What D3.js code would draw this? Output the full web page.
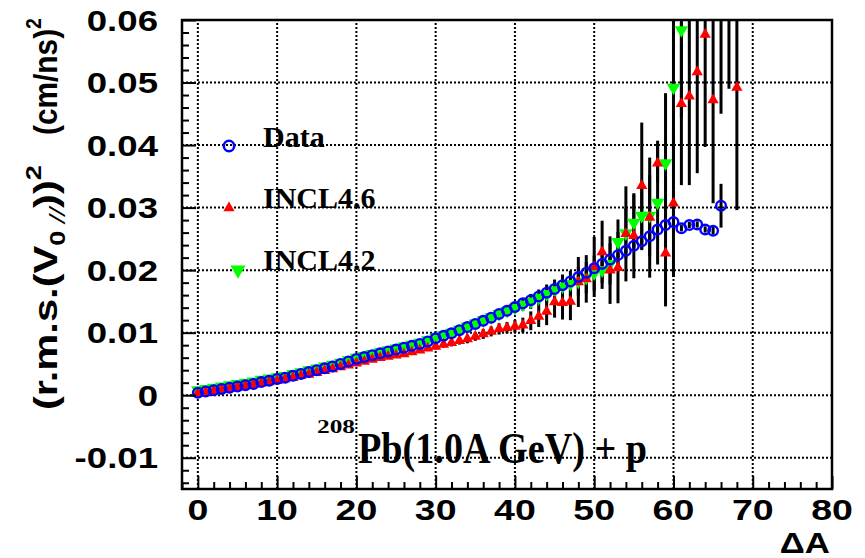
<!DOCTYPE html>
<html>
<head>
<meta charset="utf-8">
<script src="https://cdn.jsdelivr.net/npm/d3@7"></script>
<style>
  html, body { margin: 0; padding: 0; background: #fff; }
  svg { display: block; }
</style>
</head>
<body>
<svg id="chart" width="865" height="558"></svg>
<script>
// Mass loss ΔA
const deltaA = [0,1,2,3,4,5,6,7,8,9,10,11,12,13,14,15,16,17,18,19,20,21,22,23,24,25,26,27,28,29,
  30,31,32,33,34,35,36,37,38,39,40,41,42,43,44,45,46,47,48,49,50,51,52,53,54,55,56,57,58,59,
  60,61,62,63,64,65,66,67,68];

// Measured (r.m.s. V0//)^2, ΔA = 0..66
const dataValues = [0.0004,0.0006,0.0008,0.0010,0.0012,0.0014,0.0016,0.0018,0.0021,0.0023,
  0.0026,0.0028,0.0031,0.0034,0.0037,0.0040,0.0043,0.0046,0.0050,0.0054,
  0.0058,0.0061,0.0064,0.0067,0.0070,0.0073,0.0076,0.0079,0.0082,0.0086,
  0.0091,0.0095,0.0099,0.0104,0.0109,0.0114,0.0119,0.0124,0.0130,0.0135,
  0.0141,0.0147,0.0152,0.0158,0.0164,0.0170,0.0176,0.0182,0.0189,0.0196,
  0.0203,0.0210,0.0217,0.0224,0.0231,0.0239,0.0246,0.0254,0.0265,0.0272,
  0.0277,0.0267,0.0272,0.0273,0.0265,0.0263,0.0303];
const dataErrors = [0.0002,0.0002,0.0002,0.0002,0.0002,0.0002,0.0002,0.0002,0.0002,0.0002,
  0.0002,0.0002,0.0002,0.0002,0.0002,0.0002,0.0002,0.0002,0.0002,0.0002,
  0.0002,0.0002,0.0002,0.0002,0.0002,0.0002,0.0002,0.0002,0.0002,0.0002,
  0.0002,0.0002,0.0002,0.0002,0.0002,0.0002,0.0002,0.0002,0.0002,0.0002,
  0.0003,0.0003,0.0003,0.0003,0.0003,0.0003,0.0003,0.0003,0.0003,0.0003,
  0.0003,0.0003,0.0003,0.0003,0.0003,0.0003,0.0003,0.0004,0.0004,0.0004,
  0.0005,0.0005,0.0005,0.0005,0.0005,0.0006,0.0035];

// INCL4.6 prediction, ΔA = 0..68
const incl46Values = [0.0003,0.0005,0.0007,0.0009,0.0011,0.0013,0.0015,0.0017,0.0019,0.0021,
  0.0023,0.0026,0.0028,0.0031,0.0033,0.0036,0.0039,0.0042,0.0045,0.0048,
  0.0051,0.0054,0.0057,0.0060,0.0062,0.0064,0.0066,0.0069,0.0072,0.0075,
  0.0078,0.0081,0.0084,0.0087,0.0090,0.0094,0.0098,0.0102,0.0106,0.0108,
  0.0110,0.0112,0.0119,0.0126,0.0134,0.0149,0.0148,0.0150,0.0181,0.0186,
  0.0205,0.0229,0.0200,0.0204,0.0258,0.0255,0.0335,0.0284,0.0371,0.0227,
  0.0307,0.0466,0.0478,0.0517,0.0577,0.0472,0.0660,0.0700,0.0492];
const incl46Errors = [0.0002,0.0002,0.0002,0.0002,0.0002,0.0002,0.0002,0.0002,0.0002,0.0002,
  0.0002,0.0002,0.0002,0.0002,0.0002,0.0002,0.0002,0.0002,0.0002,0.0002,
  0.0003,0.0003,0.0003,0.0003,0.0003,0.0003,0.0004,0.0004,0.0004,0.0004,
  0.0005,0.0005,0.0006,0.0006,0.0007,0.0007,0.0008,0.0008,0.0009,0.0009,
  0.0010,0.0012,0.0015,0.0017,0.0022,0.0025,0.0027,0.0030,0.0040,0.0038,
  0.0048,0.0050,0.0054,0.0057,0.0076,0.0068,0.0101,0.0096,0.0030,0.0085,
  0.0118,0.0130,0.0142,0.0162,0.0180,0.0165,0.0210,0.0210,0.0196];

// INCL4.2 prediction, ΔA = 0..61
const incl42Values = [0.0008,0.0010,0.0012,0.0014,0.0016,0.0018,0.0020,0.0022,0.0025,0.0027,
  0.0029,0.0031,0.0034,0.0037,0.0040,0.0043,0.0046,0.0049,0.0052,0.0056,
  0.0060,0.0063,0.0066,0.0069,0.0072,0.0075,0.0078,0.0081,0.0084,0.0088,
  0.0092,0.0096,0.0100,0.0105,0.0110,0.0115,0.0120,0.0125,0.0130,0.0135,
  0.0140,0.0145,0.0150,0.0156,0.0162,0.0168,0.0174,0.0178,0.0182,0.0188,
  0.0195,0.0200,0.0210,0.0245,0.0259,0.0276,0.0287,0.0287,0.0308,0.0371,
  0.0492,0.0584];
const incl42Errors = [0.0002,0.0002,0.0002,0.0002,0.0002,0.0002,0.0002,0.0002,0.0002,0.0002,
  0.0002,0.0002,0.0002,0.0002,0.0002,0.0002,0.0002,0.0002,0.0002,0.0002,
  0.0002,0.0002,0.0002,0.0002,0.0002,0.0002,0.0003,0.0003,0.0003,0.0003,
  0.0004,0.0004,0.0004,0.0005,0.0005,0.0005,0.0006,0.0006,0.0007,0.0007,
  0.0008,0.0010,0.0012,0.0013,0.0015,0.0017,0.0019,0.0021,0.0023,0.0025,
  0.0028,0.0030,0.0033,0.0036,0.0040,0.0045,0.0055,0.0065,0.0099,0.0112,
  0.0125,0.0140];

// Axis ticks and labels
const xMajorTicks = [0,10,20,30,40,50,60,70,80];
const xMinorTicks = [-2,2,4,6,8,12,14,16,18,22,24,26,28,32,34,36,38,42,44,46,48,52,54,56,58,62,64,66,68,72,74,76,78];
const xGridTicks = [0,10,20,30,40,50,60,70];
const xTickLabels = ["0","10","20","30","40","50","60","70","80"];
const yMajorTicks = [-0.01,0,0.01,0.02,0.03,0.04,0.05,0.06];
const yGridTicks = [-0.01,0,0.01,0.02,0.03,0.04,0.05];
const yTickLabels = ["-0.01","0","0.01","0.02","0.03","0.04","0.05","0.06"];
const yMinorTicks = [-0.014,-0.012,-0.008,-0.006,-0.004,-0.002,0.002,0.004,0.006,0.008,
  0.012,0.014,0.016,0.018,0.022,0.024,0.026,0.028,0.032,0.034,0.036,0.038,
  0.042,0.044,0.046,0.048,0.052,0.054,0.056,0.058];

const seriesNames = ["Data", "INCL4.6", "INCL4.2"];
const seriesColors = ["#0000ff", "#ff0000", "#00ff00"];

const svg = d3.select("#chart");
const plot = { left: 182, top: 20, right: 832, bottom: 489 };

const x = d3.scaleLinear().domain([-2, 80]).range([plot.left, plot.right]);
const y = d3.scaleLinear().domain([-0.015, 0.06]).range([plot.bottom, plot.top]);

svg.append("defs").append("clipPath").attr("id", "plot-clip")
  .append("rect")
  .attr("x", plot.left).attr("y", plot.top)
  .attr("width", plot.right - plot.left).attr("height", plot.bottom - plot.top);

// dotted grid
const grid = svg.append("g").attr("stroke", "#000").attr("stroke-width", 2)
  .attr("stroke-dasharray", "2,2");
grid.selectAll("line.gx").data(xGridTicks).join("line").attr("class", "gx")
  .attr("x1", d => x(d)).attr("x2", d => x(d))
  .attr("y1", plot.bottom).attr("y2", plot.top);
grid.selectAll("line.gy").data(yGridTicks).join("line").attr("class", "gy")
  .attr("x1", plot.left).attr("x2", plot.right)
  .attr("y1", d => y(d)).attr("y2", d => y(d));

// series records
const dataPts = dataValues.map((v, i) => ({ a: deltaA[i], v, e: dataErrors[i] }));
const p46 = incl46Values.map((v, i) => ({ a: deltaA[i], v, e: incl46Errors[i] }));
const p42 = incl42Values.map((v, i) => ({ a: deltaA[i], v, e: incl42Errors[i] }));

const marks = svg.append("g").attr("clip-path", "url(#plot-clip)");

// error bars
const bars = marks.append("g").attr("stroke", "#000").attr("stroke-width", 3);
[p42, p46, dataPts].forEach(s => {
  bars.append("g").selectAll("line").data(s).join("line")
    .attr("x1", d => x(d.a)).attr("x2", d => x(d.a))
    .attr("y1", d => y(d.v - d.e)).attr("y2", d => y(d.v + d.e));
});

const triUp = d3.symbol(d3.symbolTriangle, 55)();
const triDown = d3.symbol(d3.symbolTriangle, 78)();

marks.append("g").selectAll("path").data(p42).join("path")
  .attr("d", triDown)
  .attr("transform", d => `translate(${x(d.a)},${y(d.v)}) rotate(180)`)
  .attr("fill", seriesColors[2]);

marks.append("g").selectAll("path").data(p46).join("path")
  .attr("d", triUp)
  .attr("transform", d => `translate(${x(d.a)},${y(d.v)})`)
  .attr("fill", seriesColors[1]);

marks.append("g").selectAll("circle").data(dataPts).join("circle")
  .attr("cx", d => x(d.a)).attr("cy", d => y(d.v)).attr("r", 4.8)
  .attr("fill", "none").attr("stroke", seriesColors[0]).attr("stroke-width", 2.4);

// ticks (inward)
const axes = svg.append("g");
const addAxis = (axis, tx, ty) => {
  const g = axes.append("g").attr("transform", `translate(${tx},${ty})`).call(axis);
  g.select(".domain").remove();
  g.selectAll("text").remove();
  g.selectAll("line").attr("stroke", "#000").attr("stroke-width", 2);
  return g;
};
addAxis(d3.axisBottom(x).tickValues(xMajorTicks).tickSize(-13), 0, plot.bottom);
addAxis(d3.axisBottom(x).tickValues(xMinorTicks).tickSize(-7), 0, plot.bottom);
addAxis(d3.axisLeft(y).tickValues(yMajorTicks).tickSize(-14), plot.left, 0);
addAxis(d3.axisLeft(y).tickValues(yMinorTicks).tickSize(-7), plot.left, 0);

// frame
svg.append("rect")
  .attr("x", plot.left).attr("y", plot.top)
  .attr("width", plot.right - plot.left).attr("height", plot.bottom - plot.top)
  .attr("fill", "none").attr("stroke", "#000").attr("stroke-width", 2.5);

// tick labels
const sansBold = "'Liberation Sans', Arial, Helvetica, sans-serif";
svg.append("g").selectAll("text").data(xMajorTicks).join("text")
  .attr("transform", d => `translate(${x(d)},520) scale(1.25,1)`)
  .attr("text-anchor", "middle")
  .attr("font-family", sansBold).attr("font-weight", "bold").attr("font-size", 30)
  .text((d, i) => xTickLabels[i]);

svg.append("g").selectAll("text").data(yMajorTicks).join("text")
  .attr("transform", d => `translate(158,${y(d) + 10.5}) scale(1.22,1)`)
  .attr("text-anchor", "end")
  .attr("font-family", sansBold).attr("font-weight", "bold").attr("font-size", 30)
  .text((d, i) => yTickLabels[i]);

// x title
svg.append("text")
  .attr("transform", "translate(830,553) scale(1.2,1)")
  .attr("text-anchor", "end")
  .attr("font-family", sansBold).attr("font-weight", "bold").attr("font-size", 29)
  .text("ΔA");

// y title, rotated
const yt1 = svg.append("text")
  .attr("transform", "translate(57,410) scale(1.3,1) rotate(-90)")
  .attr("font-family", sansBold).attr("font-weight", "bold").attr("font-size", 26)
  .attr("textLength", 245).attr("lengthAdjust", "spacingAndGlyphs");
yt1.append("tspan").text("(r.m.s.(V");
yt1.append("tspan").attr("font-size", 17).attr("dy", 6).text("0 ");
yt1.append("tspan").attr("font-size", 17).attr("font-style", "italic").attr("font-weight", "normal").text("//");
yt1.append("tspan").attr("dy", -6).text("))");
yt1.append("tspan").attr("font-size", 17).attr("dy", -12).text("2");

const yt2 = svg.append("text")
  .attr("transform", "translate(57,135) scale(1.3,1) rotate(-90)")
  .attr("font-family", sansBold).attr("font-weight", "bold").attr("font-size", 26)
  .attr("textLength", 117).attr("lengthAdjust", "spacingAndGlyphs");
yt2.append("tspan").text("(cm/ns)");
yt2.append("tspan").attr("font-size", 17).attr("dy", -12).text("2");

// legend
const serifBold = "'Liberation Serif', 'Times New Roman', Times, serif";
const legendRows = [
  { y: 146, tx: 263, by: 147, mx: 229 },
  { y: 208, tx: 263, by: 208, mx: 229 },
  { y: 270, tx: 263, by: 270, mx: 238 }
];
const legend = svg.append("g");
legend.append("circle").attr("cx", legendRows[0].mx).attr("cy", legendRows[0].y).attr("r", 5.2)
  .attr("fill", "none").attr("stroke", seriesColors[0]).attr("stroke-width", 2.6);
legend.append("path").attr("d", d3.symbol(d3.symbolTriangle, 55)())
  .attr("transform", `translate(${legendRows[1].mx},${legendRows[1].y})`).attr("fill", seriesColors[1]);
legend.append("path").attr("d", d3.symbol(d3.symbolTriangle, 100)())
  .attr("transform", `translate(${legendRows[2].mx},${legendRows[2].y}) rotate(180)`).attr("fill", seriesColors[2]);
legend.selectAll("text").data(seriesNames).join("text")
  .attr("x", (d, i) => legendRows[i].tx).attr("y", (d, i) => legendRows[i].by)
  .attr("font-family", serifBold).attr("font-weight", "bold").attr("font-size", 30)
  .text(d => d);

// reaction label
svg.append("text")
  .attr("x", 317).attr("y", 433)
  .attr("font-family", serifBold).attr("font-weight", "bold").attr("font-size", 18)
  .attr("textLength", 38).attr("lengthAdjust", "spacingAndGlyphs")
  .text("208");
svg.append("text")
  .attr("x", 358).attr("y", 463)
  .attr("font-family", serifBold).attr("font-weight", "bold").attr("font-size", 44)
  .attr("textLength", 289).attr("lengthAdjust", "spacingAndGlyphs")
  .text("Pb(1.0A GeV) + p");
</script>
</body>
</html>
